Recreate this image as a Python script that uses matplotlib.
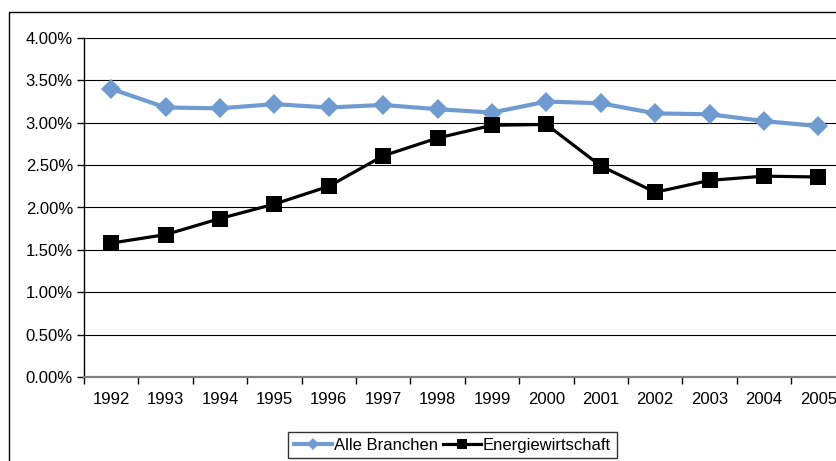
import matplotlib
matplotlib.use("Agg")
import matplotlib.pyplot as plt
from matplotlib.patches import Rectangle
from matplotlib.lines import Line2D
from matplotlib.ticker import FuncFormatter, MultipleLocator

plt.rcParams['font.family'] = ['Liberation Sans', 'DejaVu Sans']

years = ["1992", "1993", "1994", "1995", "1996", "1997", "1998",
         "1999", "2000", "2001", "2002", "2003", "2004", "2005"]
alle_branchen = [3.40, 3.18, 3.17, 3.22, 3.18, 3.21, 3.16,
                 3.12, 3.25, 3.23, 3.11, 3.10, 3.02, 2.96]
energiewirtschaft = [1.58, 1.68, 1.87, 2.04, 2.25, 2.61, 2.82,
                     2.97, 2.98, 2.49, 2.18, 2.32, 2.37, 2.36]

W, H = 836, 461
fig = plt.figure(figsize=(W / 100, H / 100), dpi=100)

# outer frame (cut off at right and bottom)
fig.patches.append(Rectangle((8.5 / W, -0.2), 2.0, 1.2 - 12 / H,
                             transform=fig.transFigure, fill=False,
                             edgecolor='black', linewidth=1.0, zorder=0))

left, top, bottom = 84, 38, 377
step = 54.4
right = left + step * len(years)
ax = fig.add_axes([left / W, 1 - bottom / H, (right - left) / W, (bottom - top) / H])

x = list(range(len(years)))
blue = '#6F9BD0'
ax.plot(x, alle_branchen, color=blue, lw=3.0, marker='D', markersize=10.5,
        markeredgewidth=0, label='Alle Branchen', zorder=3, clip_on=False)
ax.plot(x, energiewirtschaft, color='black', lw=2.3, marker='s', markersize=11.5,
        markeredgewidth=0, label='Energiewirtschaft', zorder=4, clip_on=False)

fs = 12
ax.set_xlim(-0.5, len(years) - 0.5)
ax.set_ylim(0, 4.0)
ax.yaxis.set_major_locator(MultipleLocator(0.5))
ax.yaxis.set_major_formatter(FuncFormatter(lambda v, p: f"{v:.2f}%"))
ax.set_xticks(x)
ax.set_xticklabels(years)
ax.set_xticks([i - 0.5 for i in range(len(years) + 1)], minor=True)
ax.tick_params(axis='x', which='major', length=0, pad=11, labelsize=fs)
ax.tick_params(axis='x', which='minor', length=5, width=1, direction='out', color='black')
ax.tick_params(axis='y', length=5, width=1, direction='out', labelsize=fs, pad=3)

ax.grid(axis='y', color='black', lw=0.8)
ax.set_axisbelow(True)
for s in ['top', 'right']:
    ax.spines[s].set_visible(False)
ax.spines['left'].set_color('black')
ax.spines['left'].set_linewidth(1.0)
ax.spines['bottom'].set_color('#808080')
ax.spines['bottom'].set_linewidth(1.6)

handles = [
    Line2D([], [], color=blue, lw=3.0, marker='D', markersize=6, markeredgewidth=0),
    Line2D([], [], color='black', lw=2.3, marker='s', markersize=7, markeredgewidth=0),
]
leg = fig.legend(handles, ['Alle Branchen', 'Energiewirtschaft'],
                 loc='center', bbox_to_anchor=(452.5 / W, 1 - 445 / H),
                 ncol=2, frameon=True, fancybox=False, fontsize=fs,
                 handlelength=2.3, handletextpad=0.1, columnspacing=0.3,
                 borderpad=0.35, borderaxespad=0)
leg.get_frame().set_edgecolor('black')
leg.get_frame().set_linewidth(1.0)

fig.savefig('out.png', dpi=100)
